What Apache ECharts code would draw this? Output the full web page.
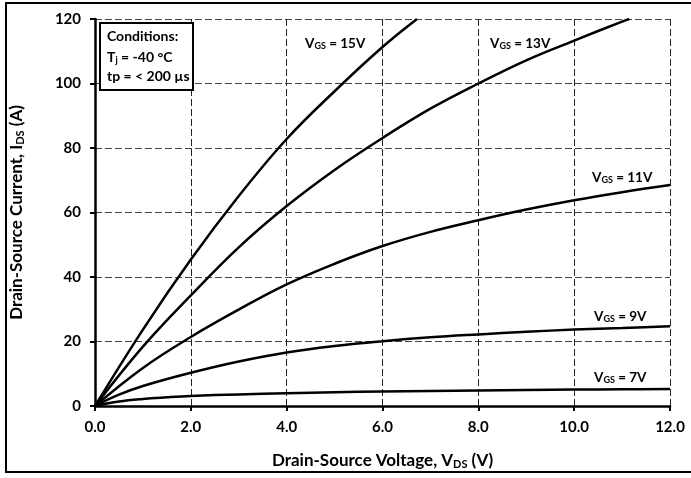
<!DOCTYPE html>
<html>
<head>
<meta charset="utf-8">
<script src="https://cdn.jsdelivr.net/npm/echarts@6/dist/echarts.min.js"></script>
<style>
html,body{margin:0;padding:0;background:#fff;}
#main{width:691px;height:478px;}
</style>
</head>
<body>
<div id="main"></div>
<script>
// 数据: Vds (V) -> Ids (A)
var vgs15=[[0,0],[1,23.7],[2,45.4],[3,65.1],[4,82.8],[5,97.6],[6,111.3],[6.72,120]];
var vgs13=[[0,0],[1,18.4],[2,34.3],[3,49.2],[4,62],[5,73.2],[6,83.1],[7,92.2],[8,100],[9,107.2],[10,113.3],[11,119.2],[11.15,120]];
var vgs11=[[0,0],[1,11.8],[2,21.4],[3,29.9],[4,37.7],[5,44.1],[6,49.6],[7,54],[8,57.6],[9,60.9],[10,63.8],[11,66.3],[12,68.5]];
var vgs9=[[0,0],[0.5,3.5],[1,6.2],[2,10.3],[3,13.8],[4,16.6],[5,18.6],[6,20.1],[7,21.3],[8,22.2],[9,23],[10,23.7],[11,24.2],[12,24.7]];
var vgs7=[[0,0],[0.5,1.4],[1,2.2],[1.5,2.7],[2,3.1],[3,3.6],[4,3.95],[5,4.25],[6,4.5],[7,4.65],[8,4.8],[9,4.95],[10,5.1],[11,5.2],[12,5.3]];
var seriesNames=['15V','13V','11V','9V','7V'];
var seriesData=[vgs15,vgs13,vgs11,vgs9,vgs7];
// 曲线标签位置 (像素)
var labelPos=[[305,44],[490,44],[592,178],[594,317],[594,378]];

var FONT='Lato';
var myChart=echarts.init(document.getElementById('main'));

var seriesArr=[];
for(var i=0;i<seriesData.length;i++){
	seriesArr.push({
		name:seriesNames[i],
		type:'line',
		data:seriesData[i],
		smooth:0.4,
		showSymbol:false,
		lineStyle:{color:'#000',width:2.5},
		clip:true
	});
}

var subRich={
	b:{fontFamily:FONT,fontWeight:'bold',fontSize:13.5,fill:'#000'},
	s:{fontFamily:FONT,fontWeight:'bold',fontSize:9,fill:'#000',padding:[5,0,0,0]}
};

var graphics=[
	{type:'rect',shape:{x:6,y:3,width:700,height:469},style:{fill:null,stroke:'#000',lineWidth:2},z:-1},
	{type:'rect',shape:{x:100,y:23,width:93,height:67},style:{fill:'#fff',stroke:'#000',lineWidth:2},z:50},
	{type:'text',x:107,y:29,z:51,style:{text:'Conditions:',fontFamily:FONT,fontWeight:'bold',fontSize:14,fill:'#000'}},
	{type:'text',x:107,y:49,z:51,style:{text:'{b|T}{s|j}{b| = -40 °C}',fontFamily:FONT,rich:{
		b:{fontFamily:FONT,fontWeight:'bold',fontSize:14,fill:'#000'},
		s:{fontFamily:FONT,fontWeight:'bold',fontSize:9,fill:'#000',padding:[7,0,0,0]}
	}}},
	{type:'text',x:107,y:69,z:51,style:{text:'tp = < 200 µs',fontFamily:FONT,fontWeight:'bold',fontSize:14,fill:'#000'}}
];
for(var j=0;j<labelPos.length;j++){
	graphics.push({type:'text',x:labelPos[j][0],y:labelPos[j][1],z:51,
		style:{text:'{b|V}{s|GS}{b| = '+seriesNames[j]+'}',verticalAlign:'middle',rich:subRich}});
}

var option={
	animation:false,
	backgroundColor:'#fff',
	grid:{left:92,right:21,top:19,bottom:72,containLabel:false},
	xAxis:{
		type:'value',min:0,max:12,interval:2,
		name:'{b|Drain-Source Voltage, V}{s|DS}{b| (V)}',
		nameLocation:'middle',nameGap:45,
		nameTextStyle:{rich:{
			b:{fontFamily:FONT,fontWeight:'bold',fontSize:17,color:'#000'},
			s:{fontFamily:FONT,fontWeight:'bold',fontSize:11,color:'#000',padding:[8,0,0,0]}
		}},
		axisLine:{show:true,onZero:false,lineStyle:{color:'#000',width:2.5}},
		axisTick:{show:true,length:5,lineStyle:{color:'#000',width:2}},
		axisLabel:{margin:14,fontFamily:FONT,fontWeight:'bold',fontSize:15,color:'#000',
			formatter:function(v){return v.toFixed(1);}},
		splitLine:{show:true,lineStyle:{color:'#222',width:1,type:[7,3]}}
	},
	yAxis:{
		type:'value',min:0,max:120,interval:20,
		name:'{b|Drain-Source Current, I}{s|DS}{b| (A)}',
		nameLocation:'middle',nameGap:69,nameRotate:90,
		nameTextStyle:{rich:{
			b:{fontFamily:FONT,fontWeight:'bold',fontSize:17,color:'#000'},
			s:{fontFamily:FONT,fontWeight:'bold',fontSize:11,color:'#000',padding:[8,0,0,0]}
		}},
		axisLine:{show:true,onZero:false,lineStyle:{color:'#000',width:2.5}},
		axisTick:{show:true,length:5,lineStyle:{color:'#000',width:2}},
		axisLabel:{margin:14,fontFamily:FONT,fontWeight:'bold',fontSize:15,color:'#000'},
		splitLine:{show:true,lineStyle:{color:'#444',width:1,type:[7,3]}}
	},
	series:seriesArr,
	graphic:graphics
};
myChart.setOption(option);
</script>
</body>
</html>
